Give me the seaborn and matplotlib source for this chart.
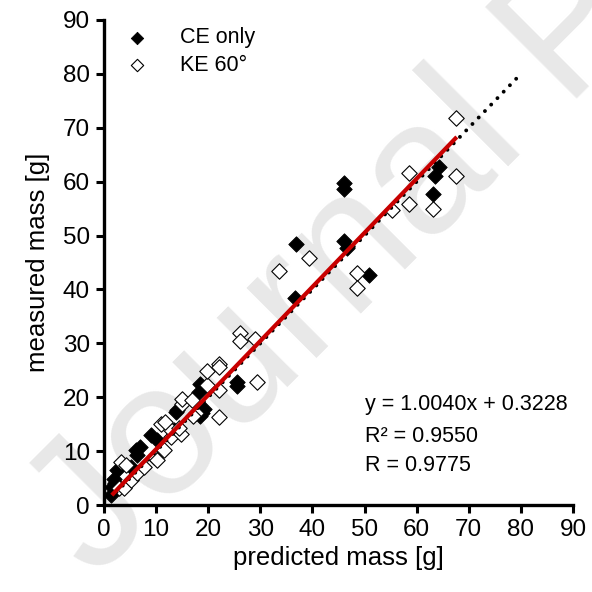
import matplotlib

matplotlib.use("Agg")
import matplotlib.pyplot as plt
import pandas as pd
import seaborn as sns

# --- data ---
ce_x = [1.3, 1.6, 2.2, 1.9, 2.5, 5.1, 6.1, 6.3, 7.0, 9.0, 10.2, 13.4, 13.8, 14.0,
        18.9, 18.4, 19.1, 18.3, 18.4, 25.5, 25.5, 36.7, 36.9, 46.1, 46.6, 46.1,
        46.1, 50.9, 63.2, 63.5, 64.2]
ce_y = [1.8, 3.4, 4.0, 4.9, 6.5, 7.1, 10.2, 9.3, 10.8, 12.9, 12.0, 13.9, 17.3, 17.7,
        17.0, 16.6, 17.9, 20.9, 22.5, 22.8, 22.1, 38.4, 48.4, 49.0, 47.7, 59.8,
        58.7, 42.7, 57.7, 61.0, 62.8]

ke_x = [2.9, 3.8, 5.1, 6.4, 7.7, 3.2, 4.2, 9.6, 10.2, 11.5, 12.8, 14.7, 12.2,
        10.9, 11.7, 14.3, 15.0, 14.9, 16.8, 17.6, 17.1, 22.1, 19.7, 22.1, 19.7,
        22.1, 22.1, 29.3, 26.1, 26.1, 29.0, 33.5, 39.4, 48.5, 48.5, 55.2, 58.6,
        58.6, 63.1, 67.6, 67.6]
ke_y = [3.1, 3.1, 4.6, 5.9, 7.1, 8.0, 7.4, 8.9, 8.3, 10.2, 12.6, 13.2, 14.5,
        15.1, 15.4, 14.2, 18.8, 19.7, 19.4, 17.0, 16.6, 16.3, 22.2, 21.4, 24.8,
        26.2, 25.7, 22.9, 32.0, 30.4, 30.8, 43.4, 45.9, 43.1, 40.2, 54.8, 55.8,
        61.6, 55.0, 61.0, 71.9]

fit_slope = 1.0040
fit_intercept = 0.3228
fit_r2 = 0.9550
fit_r = 0.9775
fit_x = [1.5, 67.7]
identity_x = [0, 80]

ticks = list(range(0, 91, 10))

# --- style ---
sns.set_theme(style="ticks")
plt.rcParams["font.family"] = ["Liberation Sans", "DejaVu Sans"]
plt.rcParams["text.color"] = "black"
plt.rcParams["axes.labelcolor"] = "black"
plt.rcParams["xtick.color"] = "black"
plt.rcParams["ytick.color"] = "black"

fig = plt.figure(figsize=(5.92, 5.92), dpi=100)
ax = fig.add_axes([104 / 592, 87 / 592, 469 / 592, 485 / 592])

# watermark (cut by the image edge, as in the reference)
ax.text(94 / 592, 12 / 592, "Journal Pre-proof", transform=fig.transFigure,
        rotation=45, rotation_mode="anchor", ha="left", va="baseline",
        fontsize=135, color="#e8e8e8", zorder=0, clip_on=False)

df_ce = pd.DataFrame({"x": ce_x, "y": ce_y})
df_ke = pd.DataFrame({"x": ke_x, "y": ke_y})

sns.scatterplot(data=df_ce, x="x", y="y", marker="D", s=62, color="black",
                edgecolor="black", linewidth=0.6, label="CE only", zorder=3,
                clip_on=False, ax=ax)
sns.scatterplot(data=df_ke, x="x", y="y", marker="D", s=62, color="white",
                edgecolor="black", linewidth=0.8, label="KE 60°", zorder=3,
                clip_on=False, ax=ax)

fit_y = [fit_slope * v + fit_intercept for v in fit_x]
ax.plot(identity_x, identity_x, color="black", lw=2.8,
        linestyle=(0, (0.01, 2.3)), dash_capstyle="round", zorder=4)
ax.plot(fit_x, fit_y, color="#c80000", lw=3, solid_capstyle="butt", zorder=5)

ax.set_xlim(0, 90)
ax.set_ylim(0, 90)
ax.set_xticks(ticks)
ax.set_yticks(ticks)
ax.set_xlabel("predicted mass [g]", fontsize=18.5, labelpad=4)
ax.set_ylabel("measured mass [g]", fontsize=18.5, labelpad=9)
ax.tick_params(axis="both", direction="out", length=6, width=2.2,
               labelsize=17.5, pad=4)
for side in ["top", "right"]:
    ax.spines[side].set_visible(False)
for side in ["left", "bottom"]:
    ax.spines[side].set_linewidth(2.4)
    ax.spines[side].set_color("black")

txt_kw = dict(fontsize=15.5, ha="left", va="center", zorder=6)
ax.text(50.1, 18.6, f"y = {fit_slope:.4f}x + {fit_intercept:.4f}", **txt_kw)
ax.text(50.1, 12.7, f"R² = {fit_r2:.4f}", **txt_kw)
ax.text(50.1, 7.4, f"R = {fit_r:.4f}", **txt_kw)

ax.legend(loc="upper left", bbox_to_anchor=(0.047, 0.985), frameon=False,
          markerscale=0.8, handlelength=1.0, handletextpad=1.5,
          borderpad=0, borderaxespad=0, labelspacing=0.3, fontsize=15.5)

fig.savefig("out.png", dpi=100)
